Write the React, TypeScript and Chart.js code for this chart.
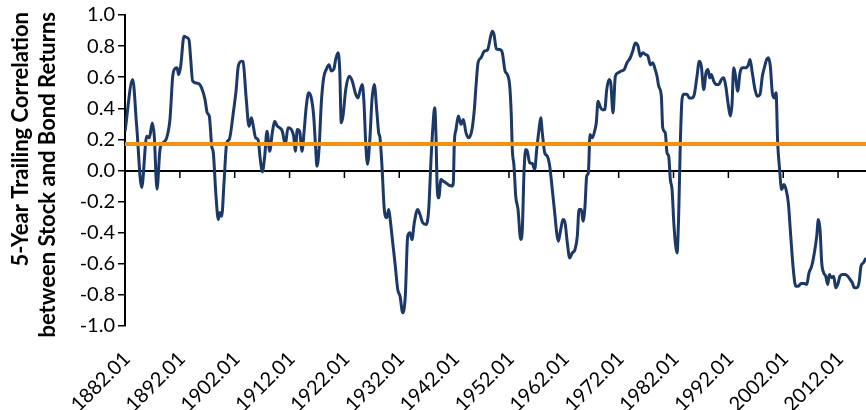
import { useEffect, useRef } from 'react';
import { Chart, registerables } from 'chart.js';

Chart.register(...registerables);

// Month (as decimal year) of each traced point of the 5-year trailing correlation
const years = [
  1882.00, 1883.40, 1884.13, 1885.04, 1885.96, 1886.43, 1886.98, 1887.34, 1887.83, 1888.38,
  1888.98, 1889.60, 1890.20, 1890.70, 1891.12, 1891.48, 1891.79, 1892.15, 1892.76, 1893.25,
  1893.67, 1893.98, 1894.34, 1895.36, 1895.98, 1896.58, 1897.00, 1897.37, 1897.81, 1898.10,
  1898.59, 1899.01, 1899.32, 1899.63, 1900.05, 1900.54, 1901.01, 1901.74, 1902.24, 1902.65,
  1903.27, 1903.51, 1904.11, 1904.61, 1905.03, 1905.33, 1905.83, 1906.25, 1906.67, 1907.03,
  1907.47, 1907.89, 1908.38, 1908.85, 1909.29, 1909.77, 1910.20, 1910.68, 1911.22, 1911.72,
  1912.32, 1912.75, 1913.05, 1913.41, 1913.85, 1914.27, 1914.63, 1915.05, 1915.49, 1915.96,
  1916.40, 1916.77, 1917.00, 1917.37, 1917.79, 1918.22, 1918.70, 1919.19, 1919.61, 1920.05,
  1920.41, 1920.83, 1921.14, 1921.43, 1921.74, 1922.24, 1922.84, 1923.44, 1924.06, 1924.48,
  1924.90, 1925.26, 1925.57, 1925.88, 1926.21, 1926.67, 1927.03, 1927.45, 1927.89, 1928.25,
  1928.49, 1928.85, 1929.27, 1929.71, 1930.08, 1930.31, 1930.81, 1931.28, 1931.72, 1932.14,
  1932.63, 1933.10, 1933.54, 1933.96, 1934.32, 1934.74, 1935.36, 1935.78, 1936.28, 1936.88,
  1937.37, 1937.79, 1938.10, 1938.46, 1938.70, 1938.88, 1939.19, 1939.61, 1940.03, 1940.52,
  1941.12, 1941.62, 1941.85, 1942.04, 1942.35, 1942.77, 1943.26, 1943.68, 1944.17, 1944.66,
  1945.26, 1945.68, 1945.99, 1946.36, 1946.90, 1947.50, 1948.12, 1948.67, 1948.96, 1949.27,
  1949.69, 1950.31, 1950.79, 1951.28, 1951.70, 1952.14, 1952.43, 1952.61, 1952.92, 1953.23,
  1953.65, 1954.14, 1954.43, 1954.74, 1955.05, 1955.35, 1955.78, 1956.26, 1956.69, 1957.06,
  1957.48, 1957.79, 1958.08, 1958.52, 1958.99, 1959.43, 1959.90, 1960.40, 1960.70, 1961.00,
  1961.43, 1961.85, 1962.22, 1962.64, 1963.07, 1963.55, 1964.04, 1964.46, 1964.77, 1965.19,
  1965.50, 1965.86, 1966.17, 1966.47, 1966.78, 1967.20, 1967.69, 1967.92, 1968.24, 1968.60,
  1969.02, 1969.46, 1969.82, 1970.24, 1970.55, 1970.97, 1971.39, 1971.88, 1972.48, 1973.03,
  1973.52, 1974.12, 1974.56, 1975.04, 1975.53, 1975.95, 1976.38, 1976.86, 1977.35, 1977.77,
  1978.21, 1978.57, 1978.99, 1979.30, 1979.78, 1980.03, 1980.50, 1980.81, 1981.12, 1981.42,
  1981.73, 1982.09, 1982.64, 1982.95, 1983.24, 1983.55, 1983.86, 1984.46, 1984.88, 1985.37,
  1985.79, 1986.28, 1986.70, 1987.07, 1987.51, 1987.92, 1988.29, 1988.60, 1988.89, 1989.33,
  1989.75, 1990.24, 1990.71, 1991.15, 1991.57, 1991.93, 1992.35, 1992.66, 1992.97, 1993.26,
  1993.70, 1994.12, 1994.54, 1995.16, 1995.64, 1995.95, 1996.36, 1996.86, 1997.28, 1997.77,
  1998.19, 1998.55, 1998.99, 1999.28, 1999.65, 2000.01, 2000.38, 2000.69, 2000.99, 2001.29,
  2001.72, 2002.14, 2002.51, 2002.93, 2003.37, 2003.84, 2004.28, 2004.75, 2005.25, 2005.85,
  2006.28, 2006.70, 2007.19, 2007.67, 2008.11, 2008.40, 2008.71, 2009.02, 2009.38, 2009.75,
  2010.11, 2010.40, 2010.84, 2011.20, 2011.57, 2011.93, 2012.35, 2012.77, 2013.27, 2013.76,
  2014.18, 2014.60, 2014.96, 2015.40, 2015.82, 2016.18, 2016.60, 2017.09,
];

// 5-year trailing correlation between stock and bond returns at those points
const correlation = [
  0.25, 0.585, 0.285, -0.11, 0.22, 0.21, 0.305, 0.22, -0.12, 0.135,
  0.18, 0.21, 0.33, 0.605, 0.655, 0.66, 0.617, 0.67, 0.864, 0.855,
  0.84, 0.714, 0.574, 0.56, 0.53, 0.457, 0.37, 0.35, 0.156, 0.114,
  -0.165, -0.315, -0.27, -0.294, -0.08, 0.178, 0.2, 0.37, 0.51, 0.67,
  0.703, 0.70, 0.457, 0.285, 0.34, 0.296, 0.21, 0.2, 0.07, -0.01,
  0.092, 0.253, 0.124, 0.242, 0.317, 0.285, 0.275, 0.253, 0.167, 0.275,
  0.264, 0.22, 0.124, 0.264, 0.25, 0.124, 0.242, 0.413, 0.5, 0.467,
  0.35, 0.135, 0.028, 0.135, 0.435, 0.596, 0.65, 0.68, 0.64, 0.65,
  0.714, 0.757, 0.65, 0.307, 0.35, 0.52, 0.606, 0.574, 0.49, 0.467,
  0.52, 0.553, 0.435, 0.178, 0.04, 0.22, 0.457, 0.553, 0.39, 0.242,
  0.21, 0.028, -0.25, -0.304, -0.25, -0.304, -0.465, -0.615, -0.765, -0.808,
  -0.915, -0.808, -0.422, -0.40, -0.444, -0.336, -0.25, -0.283, -0.336, -0.347,
  -0.25, 0.07, 0.264, 0.403, 0.22, -0.08, -0.176, -0.058, -0.069, -0.08,
  -0.096, -0.10, -0.08, 0.178, 0.264, 0.35, 0.296, 0.328, 0.242, 0.21,
  0.264, 0.39, 0.542, 0.693, 0.725, 0.767, 0.778, 0.864, 0.896, 0.875,
  0.783, 0.778, 0.757, 0.64, 0.617, 0.542, 0.35, 0.135, 0.028, -0.165,
  -0.25, -0.444, -0.38, -0.015, 0.135, 0.124, 0.05, 0.045, 0.006, 0.135,
  0.264, 0.34, 0.242, 0.114, 0.092, 0.028, -0.122, -0.294, -0.40, -0.455,
  -0.38, -0.315, -0.336, -0.465, -0.562, -0.53, -0.508, -0.422, -0.25, -0.25,
  -0.326, -0.23, -0.036, -0.015, 0.232, 0.21, 0.264, 0.307, 0.446, 0.413,
  0.39, 0.39, 0.52, 0.585, 0.564, 0.37, 0.606, 0.628, 0.64, 0.65,
  0.693, 0.725, 0.767, 0.82, 0.80, 0.735, 0.757, 0.746, 0.735, 0.68,
  0.693, 0.66, 0.606, 0.542, 0.478, 0.275, 0.242, 0.114, 0.092, -0.058,
  -0.122, -0.358, -0.53, -0.272, 0.178, 0.457, 0.49, 0.49, 0.467, 0.467,
  0.49, 0.606, 0.703, 0.67, 0.52, 0.628, 0.65, 0.596, 0.617, 0.574,
  0.553, 0.553, 0.585, 0.596, 0.532, 0.435, 0.35, 0.424, 0.66, 0.617,
  0.51, 0.628, 0.66, 0.66, 0.68, 0.714, 0.628, 0.52, 0.478, 0.49,
  0.606, 0.66, 0.714, 0.725, 0.67, 0.50, 0.467, 0.50, 0.178, 0.028,
  -0.122, -0.09, -0.122, -0.208, -0.422, -0.637, -0.744, -0.744, -0.727, -0.727,
  -0.733, -0.658, -0.615, -0.53, -0.422, -0.315, -0.38, -0.594, -0.658, -0.68,
  -0.733, -0.669, -0.69, -0.68, -0.754, -0.733, -0.68, -0.669, -0.669, -0.68,
  -0.70, -0.722, -0.754, -0.754, -0.722, -0.615, -0.594, -0.562,
];

// Long-run average correlation (horizontal reference line)
const averageCorrelation = 0.17;

const xRange = [1882, 2017.09];

const xTickLabels = [
  '1882.01', '1892.01', '1902.01', '1912.01', '1922.01', '1932.01', '1942.01',
  '1952.01', '1962.01', '1972.01', '1982.01', '1992.01', '2002.01', '2012.01',
];

const yTickValues = [-1.0, -0.8, -0.6, -0.4, -0.2, 0.0, 0.2, 0.4, 0.6, 0.8, 1.0];

const yTitleLines = ['5-Year Trailing Correlation', 'between Stock and Bond Returns'];

const NAVY = '#1C3867';
const ORANGE = '#F29213';
const FONT = 'Lato, "Open Sans", sans-serif';

export default function App() {
  const canvasRef = useRef<HTMLCanvasElement>(null);

  useEffect(() => {
    document.body.style.margin = '0';
    const canvas = canvasRef.current;
    if (!canvas) return;

    const tickYears = xTickLabels.map((l) => Math.floor(parseFloat(l)));

    const zeroAxisPlugin = {
      id: 'zeroAxis',
      beforeDatasetsDraw(chart: any) {
        const { ctx, chartArea, scales } = chart;
        const y0 = Math.round(scales.y.getPixelForValue(0));
        ctx.save();
        ctx.strokeStyle = '#000';
        ctx.lineWidth = 2;
        ctx.beginPath();
        ctx.moveTo(chartArea.left, y0);
        ctx.lineTo(chartArea.right, y0);
        ctx.stroke();
        ctx.lineWidth = 1.5;
        tickYears.forEach((v) => {
          const px = scales.x.getPixelForValue(v);
          if (px <= chartArea.left + 1) return;
          ctx.beginPath();
          ctx.moveTo(px, y0);
          ctx.lineTo(px, y0 + 7);
          ctx.stroke();
        });
        ctx.restore();
      },
    };

    const yTitlePlugin = {
      id: 'yTitle',
      afterDraw(chart: any) {
        const { ctx } = chart;
        ctx.save();
        ctx.font = `bold 22px ${FONT}`;
        ctx.fillStyle = '#000';
        ctx.textAlign = 'right';
        ctx.textBaseline = 'middle';
        const xs = [21, 48];
        yTitleLines.forEach((line, i) => {
          ctx.save();
          ctx.translate(xs[i], 12);
          ctx.rotate(-Math.PI / 2);
          ctx.fillText(line, 0, 0);
          ctx.restore();
        });
        ctx.restore();
      },
    };

    const chart = new Chart(canvas, {
      type: 'line',
      data: {
        datasets: [
          {
            label: 'Average',
            data: xRange.map((x) => ({ x, y: averageCorrelation })),
            borderColor: ORANGE,
            borderWidth: 4,
            pointRadius: 0,
            fill: false,
          },
          {
            label: 'Correlation',
            data: years.map((x, i) => ({ x, y: correlation[i] })),
            borderColor: NAVY,
            borderWidth: 3,
            pointRadius: 0,
            fill: false,
            cubicInterpolationMode: 'monotone',
            borderJoinStyle: 'round',
          },
        ],
      },
      options: {
        responsive: false,
        animation: false,
        devicePixelRatio: 1,
        layout: { padding: { top: 15, right: 0, bottom: 0, left: 0 } },
        plugins: {
          legend: { display: false },
          tooltip: { enabled: false },
        },
        scales: {
          x: {
            type: 'linear',
            min: xRange[0],
            max: xRange[1],
            afterBuildTicks: (s: any) => {
              s.ticks = tickYears.map((v) => ({ value: v }));
            },
            ticks: {
              callback: (_v: any, i: number) => xTickLabels[i],
              minRotation: 45,
              maxRotation: 45,
              autoSkip: false,
              padding: 13,
              labelOffset: 2,
              color: '#000',
              font: { family: FONT, size: 20 },
            },
            grid: { display: false },
            border: { display: false },
            afterFit: (s: any) => {
              s.height = 84;
              s.paddingLeft = 0;
              s.paddingRight = 0;
            },
          },
          y: {
            min: -1,
            max: 1,
            afterBuildTicks: (s: any) => {
              s.ticks = yTickValues.map((v) => ({ value: v }));
            },
            ticks: {
              callback: (v: any) => Number(v).toFixed(1),
              padding: 3,
              color: '#000',
              font: { family: FONT, size: 20 },
            },
            grid: {
              drawOnChartArea: false,
              drawTicks: true,
              tickLength: 7,
              color: '#000',
              lineWidth: 1.5,
            },
            border: { display: true, color: '#000', width: 2 },
            afterFit: (s: any) => {
              s.width = 125;
            },
          },
        },
      },
      plugins: [zeroAxisPlugin, yTitlePlugin],
    } as any);

    return () => chart.destroy();
  }, []);

  return (
    <div style={{ width: 866, height: 410, position: 'relative' }}>
      <canvas ref={canvasRef} width={866} height={410} style={{ display: 'block' }} />
    </div>
  );
}
